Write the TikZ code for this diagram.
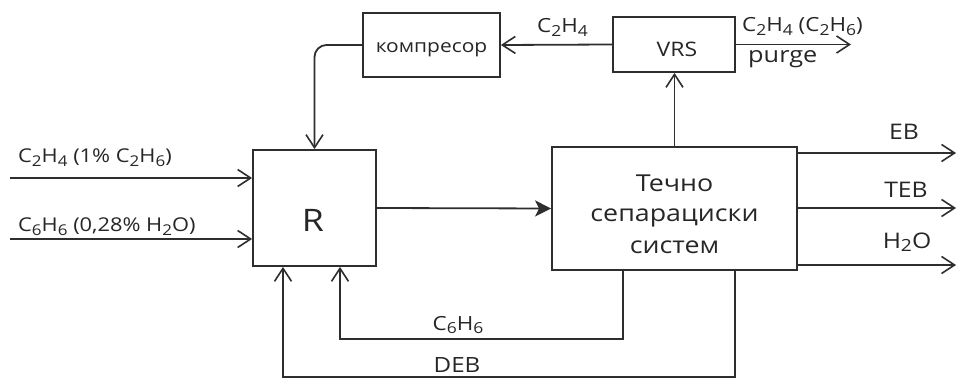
\documentclass[tikz,border=0pt]{standalone}
\usepackage{fontspec}
\setmainfont{Open Sans}[FakeStretch=1.15]
\usetikzlibrary{arrows.meta}
\newcommand\lowr[1]{\raisebox{-0.32ex}{\scalebox{0.78}{#1}}}
\newcommand\fs[1]{\fontsize{#1}{#1}\selectfont}
\begin{document}
\begin{tikzpicture}[x=1pt,y=-1pt,
  ink/.style={black!82},
  unit/.style={draw=black!82,line width=1.8pt,rectangle,inner sep=0pt},
  flow/.style={ink,line width=1.8pt,-{Straight Barb[length=13pt,width=17pt,line width=1.6pt]}},
  feed/.style={ink,line width=1.8pt,-{Stealth[length=16pt,width=16pt,inset=4pt]}},
  txt/.style={anchor=base,inner sep=0pt,text=black!85},
  lbl/.style={anchor=base west,inner sep=0pt,text=black!85,font=\fs{19}}]
\useasboundingbox (0,0) rectangle (957,379);

% process units
\node[unit,minimum width=123pt,minimum height=116pt] (R) at (314.5,208) {};
\node[unit,minimum width=245pt,minimum height=123pt] (T) at (674.5,208.5) {};
\node[unit,minimum width=137pt,minimum height=64pt] (K) at (431.5,45) {};
\node[unit,minimum width=122pt,minimum height=55pt] (V) at (674,44.5) {};

% unit names
\node[txt,font=\fs{31}] (Rt) at (313,232) {R};
\node[txt,font=\fs{23.3}] (t1) at (674.5,192) {Течно};
\node[txt,font=\fs{23.3}] (t2) at (674.5,222) {сепарациски};
\node[txt,font=\fs{23.3}] (t3) at (674.5,253) {систем};
\node[txt,font=\fs{18.2}] (Kt) at (431.5,53) {компресор};
\node[txt,font=\fs{20}] (Vt) at (677,57) {VRS};

% free ends of the feed and product streams
\coordinate (in1) at (10,178);
\coordinate (in2) at (10,239);
\coordinate (pg) at (851,44.5);
\coordinate (o1) at (956,153);
\coordinate (o2) at (956,208);
\coordinate (o3) at (956,265);
\coordinate (b1) at (623,339);
\coordinate (b1r) at (340,339);
\coordinate (b2) at (735,377);
\coordinate (b2l) at (283,377);

% fresh feeds
\draw[flow] (in1) -- (R.west |- in1);
\draw[flow] (in2) -- (R.west |- in2);
\node[lbl] (f1) at (18,163) {C\lowr{2}H\lowr{4} (1\% C\lowr{2}H\lowr{6})};
\node[lbl] (f2) at (18,232) {C\lowr{6}H\lowr{6} (0,28\% H\lowr{2}O)};

% reactor effluent
\draw[feed] (R.east) -- (T.west);

% vent gas recovery loop
\draw[flow] (T.north) -- (T.north |- V.south);
\draw[flow] (V.west) -- (K.east);
\node[lbl,font=\fs{19.5}] (lc) at (537,33) {C\lowr{2}H\lowr{4}};
\draw[flow,rounded corners=12pt] (K.west) -| (R.north);
\draw[flow] (V.east) -- (pg);
\node[lbl,font=\fs{19.5}] (lp) at (742,32) {C\lowr{2}H\lowr{4} (C\lowr{2}H\lowr{6})};
\node[lbl,font=\fs{22}] (lpg) at (748,63) {purge};

% products
\draw[flow] (T.east |- o1) -- (o1);
\draw[flow] (T.east |- o2) -- (o2);
\draw[flow] (T.east |- o3) -- (o3);
\node[txt,font=\fs{21.5}] (eb) at (904,140) {EB};
\node[txt,font=\fs{21.5}] (teb) at (906,198) {TEB};
\node[txt,font=\fs{21.5}] (w) at (907,248) {H\lowr{2}O};

% recycles
\draw[flow] (T.south -| b1) -- (b1) -- (b1r) -- (R.south -| b1r);
\node[txt,font=\fs{19.5}] (lb) at (458,330) {C\lowr{6}H\lowr{6}};
\draw[flow] (T.south -| b2) -- (b2) -- (b2l) -- (R.south -| b2l);
\node[txt,font=\fs{21}] (ld) at (457,372) {DEB};
\end{tikzpicture}
\end{document}
